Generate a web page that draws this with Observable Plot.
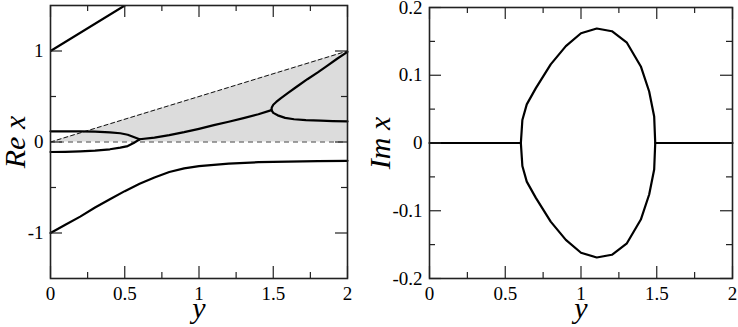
<!DOCTYPE html>
<html><head><meta charset="utf-8">
<script src="https://cdn.jsdelivr.net/npm/d3@7"></script>
<script src="https://cdn.jsdelivr.net/npm/@observablehq/plot@0.6"></script>
<style>
html,body{margin:0;padding:0;background:#fff;}
#wrap{display:flex;width:738px;height:327px;overflow:hidden;}
#wrap svg, #wrap svg text{font-family:"Liberation Serif","Times New Roman",serif !important;}
</style></head><body><div id="wrap"></div>
<script>
// ---- tick values ----
const xMajor = [0, 0.5, 1, 1.5, 2];
const xMinor = [0.25, 0.75, 1.25, 1.75];
const reMajor = [-1, 0, 1];
const reMinor = [-0.5, 0.5];
const imMajor = [-0.2, -0.1, 0, 0.1, 0.2];
const imMinor = [-0.15, -0.05, 0.05, 0.15];

// ---- left panel: Re x vs y ----
const shadeY = [0, 2];
const shadeUpper = [0, 1];
const shadeLower = [0, 0];

const reTop = [[0, 1], [0.5, 1.5]];
const reBottom = [[0, -1], [0.1, -0.91], [0.2, -0.82], [0.3, -0.72], [0.4, -0.63], [0.5, -0.54],
  [0.6, -0.46], [0.7, -0.39], [0.8, -0.33], [0.9, -0.29], [1.0, -0.265], [1.2, -0.237],
  [1.4, -0.222], [1.6, -0.215], [1.8, -0.21], [2.0, -0.207]];
const reUpperSmall = [[0, 0.117], [0.2, 0.116], [0.3, 0.113], [0.4, 0.106], [0.47, 0.096],
  [0.52, 0.08], [0.56, 0.055], [0.6, 0.03]];
const reLowerSmall = [[0, -0.11], [0.1, -0.108], [0.2, -0.103], [0.3, -0.095], [0.4, -0.08],
  [0.47, -0.062], [0.52, -0.045], [0.56, -0.012], [0.6, 0.03]];
const reMerged = [[0.6, 0.03], [0.7, 0.048], [0.8, 0.075], [0.9, 0.108], [1.0, 0.145],
  [1.1, 0.185], [1.2, 0.222], [1.3, 0.262], [1.4, 0.305], [1.488, 0.35]];
const reBranchUp = [[1.488, 0.35], [1.49, 0.38], [1.5, 0.41], [1.52, 0.44], [1.55, 0.48],
  [1.6, 0.54], [1.66, 0.61], [1.73, 0.69], [1.8, 0.765], [1.865, 0.84], [1.93, 0.915], [2.0, 0.99]];
const reBranchDown = [[1.488, 0.35], [1.5, 0.32], [1.53, 0.293], [1.58, 0.265], [1.64, 0.25],
  [1.72, 0.241], [1.82, 0.234], [1.9, 0.23], [2.0, 0.226]];

// ---- right panel: Im x vs y ----
const imFlatLeft = [[0, 0], [0.603, 0]];
const imFlatRight = [[1.49, 0], [2, 0]];
const imLoop = [[0.603, 0], [0.613, 0.034], [0.642, 0.057], [0.702, 0.081], [0.8, 0.116],
  [0.9, 0.143], [1.0, 0.162], [1.104, 0.169], [1.204, 0.165], [1.303, 0.148], [1.395, 0.113],
  [1.45, 0.076], [1.483, 0.039], [1.49, 0],
  [1.483, -0.039], [1.45, -0.076], [1.395, -0.113], [1.303, -0.148], [1.204, -0.165],
  [1.104, -0.169], [1.0, -0.162], [0.9, -0.143], [0.8, -0.116], [0.702, -0.081],
  [0.642, -0.057], [0.613, -0.034], [0.603, 0]];

const W = 369, H = 327;
const font = "Liberation Serif";
const MAJ = 12, MIN = 6;

function tickMarks(plotW, plotH, xMaj, xMin, yMaj, yMin) {
  const st = {stroke: "#222", strokeWidth: 1.2};
  return [
    Plot.tickX(xMaj, {x: d => d, insetTop: plotH - MAJ, ...st}),
    Plot.tickX(xMaj, {x: d => d, insetBottom: plotH - MAJ, ...st}),
    Plot.tickX(xMin, {x: d => d, insetTop: plotH - MIN, ...st}),
    Plot.tickX(xMin, {x: d => d, insetBottom: plotH - MIN, ...st}),
    Plot.tickY(yMaj, {y: d => d, insetRight: plotW - MAJ, ...st}),
    Plot.tickY(yMaj, {y: d => d, insetLeft: plotW - MAJ, ...st}),
    Plot.tickY(yMin, {y: d => d, insetRight: plotW - MIN, ...st}),
    Plot.tickY(yMin, {y: d => d, insetLeft: plotW - MIN, ...st})
  ];
}

const curve = (data, extra = {}) =>
  Plot.line(data, {x: d => d[0], y: d => d[1], stroke: "black", strokeWidth: 2.2, ...extra});

const shade = shadeY.map((y, i) => ({y, lo: shadeLower[i], hi: shadeUpper[i]}));

const labelOpts = {fontFamily: font, fontSize: 30, fontStyle: "italic", lineAnchor: "middle"};

// Left
const L = {left: 50, right: 22, top: 5, bottom: 49};
const left = Plot.plot({
  width: W, height: H,
  marginLeft: L.left, marginRight: L.right, marginTop: L.top, marginBottom: L.bottom,
  x: {domain: [0, 2]},
  y: {domain: [-1.5, 1.5]},
  style: {fontFamily: font, fontSize: "19px", background: "white", color: "black"},
  marks: [
    Plot.areaY(shade, {x: "y", y1: "lo", y2: "hi", fill: "#dcdcdc"}),
    Plot.ruleY([0], {stroke: "#444", strokeWidth: 1.2, strokeDasharray: "5,4"}),
    Plot.line(shade, {x: "y", y: "hi", stroke: "#111", strokeWidth: 1, strokeDasharray: "4,3"}),
    curve(reTop, {clip: true}),
    curve(reBottom),
    curve(reUpperSmall),
    curve(reLowerSmall),
    curve(reMerged),
    curve(reBranchUp),
    curve(reBranchDown),
    ...tickMarks(W - L.left - L.right, H - L.top - L.bottom, xMajor, xMinor, reMajor, reMinor),
    Plot.frame({stroke: "#222", strokeWidth: 1.6}),
    Plot.axisX(xMajor, {tickSize: 0, tickPadding: 8, tickFormat: d => String(d), label: null, fontFamily: font, fontSize: 19}),
    Plot.axisY(reMajor, {tickSize: 0, tickPadding: 7, tickFormat: d => String(d), label: null, fontFamily: font, fontSize: 19}),
    Plot.text(["Re x"], {text: d => d, frameAnchor: "left", rotate: -90, dx: -35, textAnchor: "middle", ...labelOpts}),
    Plot.text(["y"], {text: d => d, frameAnchor: "bottom", dy: 30, ...labelOpts})
  ]
});

// Right
const R = {left: 60, right: 6, top: 7, bottom: 49};
const right = Plot.plot({
  width: W, height: H,
  marginLeft: R.left, marginRight: R.right, marginTop: R.top, marginBottom: R.bottom,
  x: {domain: [0, 2]},
  y: {domain: [-0.2, 0.2]},
  style: {fontFamily: font, fontSize: "19px", background: "white", color: "black"},
  marks: [
    curve(imFlatLeft),
    curve(imFlatRight),
    curve(imLoop),
    ...tickMarks(W - R.left - R.right, H - R.top - R.bottom, xMajor, xMinor, imMajor, imMinor),
    Plot.frame({stroke: "#222", strokeWidth: 1.6}),
    Plot.axisX(xMajor, {tickSize: 0, tickPadding: 8, tickFormat: d => String(d), label: null, fontFamily: font, fontSize: 19}),
    Plot.axisY(imMajor, {tickSize: 0, tickPadding: 7, tickFormat: d => String(d), label: null, fontFamily: font, fontSize: 19}),
    Plot.text(["Im x"], {text: d => d, frameAnchor: "left", rotate: -90, dx: -49, textAnchor: "middle", ...labelOpts}),
    Plot.text(["y"], {text: d => d, frameAnchor: "bottom", dy: 30, ...labelOpts})
  ]
});

document.getElementById("wrap").append(left, right);
</script></body></html>
